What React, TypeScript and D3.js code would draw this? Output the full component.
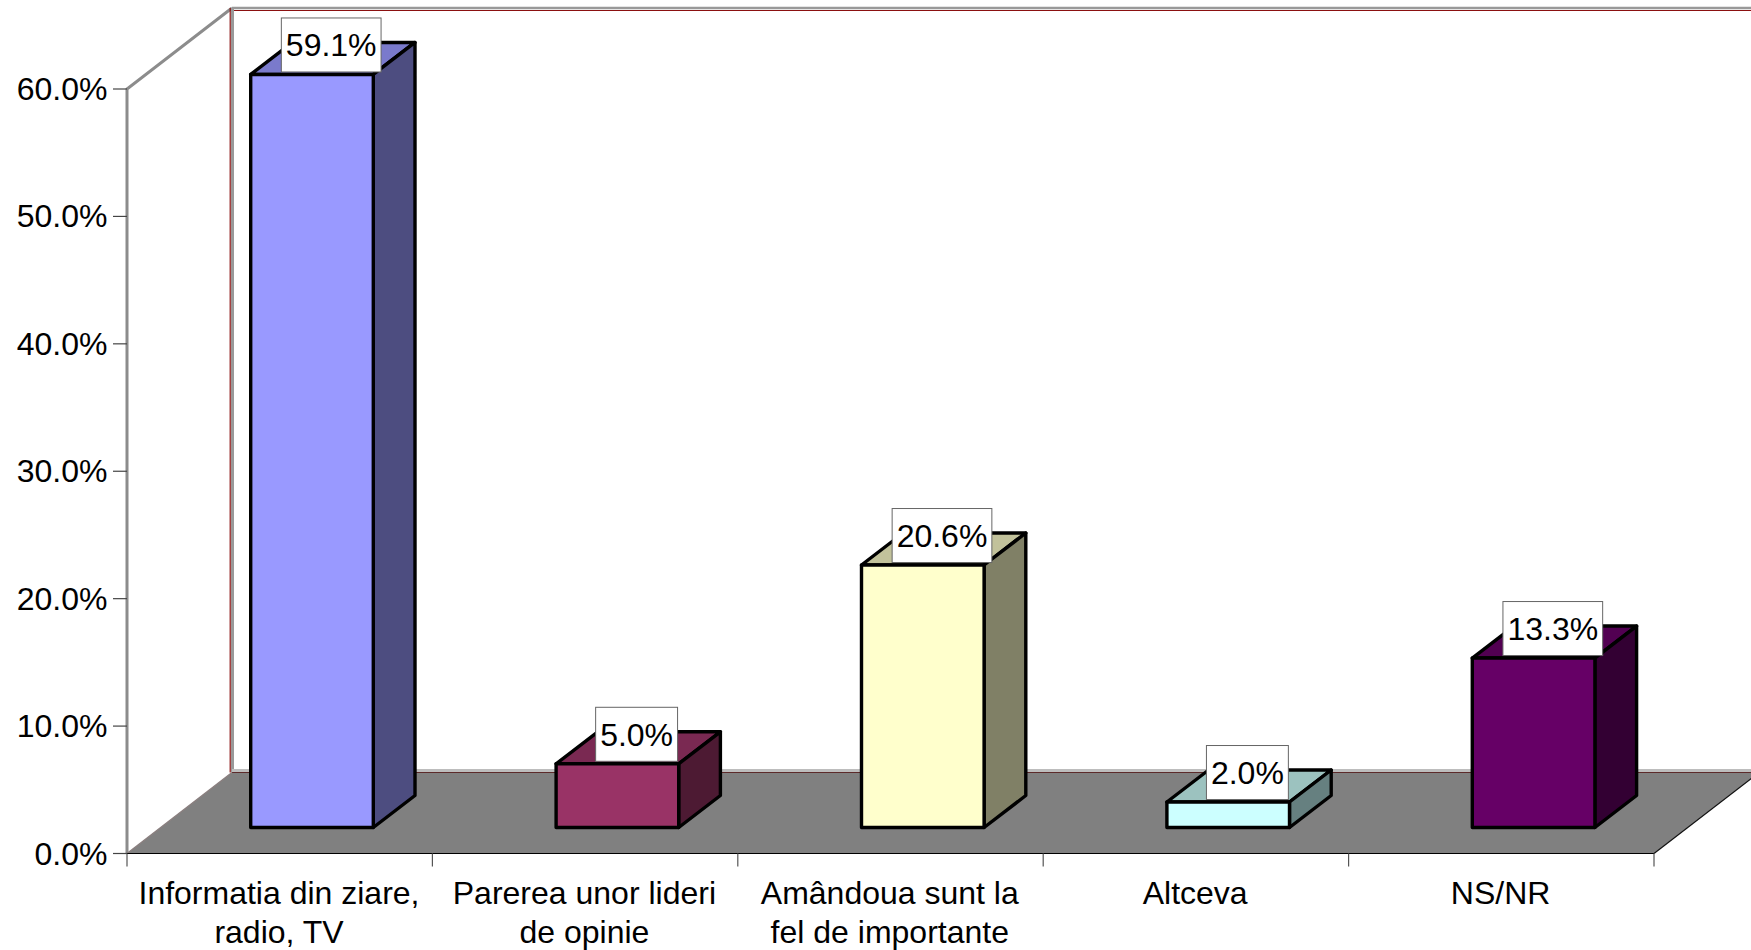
import React from "react";
import * as d3 from "d3";

const categories = [
  ["Informatia din ziare,", "radio, TV"],
  ["Parerea unor lideri", "de opinie"],
  ["Amândoua sunt la", "fel de importante"],
  ["Altceva"],
  ["NS/NR"],
];
const values = [59.1, 5.0, 20.6, 2.0, 13.3];
const yTicks = [0, 10, 20, 30, 40, 50, 60];
const frontColors = ["#9999ff", "#993366", "#ffffcc", "#ccffff", "#660066"];
const topColors = ["#7a7acc", "#7a2952", "#c2c29b", "#9cc2bf", "#520052"];
const sideColors = ["#4d4d80", "#4d1a33", "#808066", "#668080", "#330033"];

const W = 1751;
const H = 950;
const x0 = 127;
const x1 = 1654;
const yBase = 853.5;
const yTop = 89;
const depthX = 105;
const depthY = 81;
const font = "'Liberation Sans', Arial, sans-serif";
const fs = 32;

const y = d3.scaleLinear().domain([0, 60]).range([yBase, yTop]);
const x = d3.scaleBand<number>().domain(d3.range(categories.length)).range([x0, x1]);

const barW = 122.6;
const barOffset = 123.7; // category left -> front face left
const barLift = 26;
const barDX = 41.7;
const barDY = 32;
const pts = (p: number[][]) => p.map((q) => q.join(",")).join(" ");

function labelWidth(t: string) {
  const digits = t.replace(/[^0-9]/g, "").length;
  return (digits * 0.556 + 0.278 + 0.889) * fs + 9;
}

export default function App() {
  const bx0 = x0 + depthX;
  const byTop = y(60) - depthY;
  const byBase = yBase - depthY;
  return (
    <svg width={W} height={H} style={{ position: "absolute", left: 0, top: 0, display: "block", background: "#fff" }}>
      {/* left wall */}
      <polygon points={pts([[x0, yBase], [x0, yTop], [bx0, byTop], [bx0, byBase]])} fill="#fff" />
      <polyline points={pts([[x0, yBase], [x0, yTop], [bx0, byTop]])} fill="none" stroke="#8c8c8c" strokeWidth={3} />
      {/* back wall frame */}
      <line x1={bx0} x2={W} y1={byTop + 2.5} y2={byTop + 2.5} stroke="#8b1010" strokeWidth={1.2} />
      <line x1={bx0} x2={W} y1={byTop} y2={byTop} stroke="#999" strokeWidth={2.5} />
      <line x1={bx0 - 1.8} x2={bx0 - 1.8} y1={byTop} y2={byBase} stroke="#8b1010" strokeWidth={1.2} />
      <line x1={bx0 + 0.5} x2={bx0 + 0.5} y1={byTop} y2={byBase} stroke="#999" strokeWidth={3} />
      <line x1={bx0} x2={W} y1={byBase - 2} y2={byBase - 2} stroke="#bdbdbd" strokeWidth={3} />
      {/* floor */}
      <polygon points={pts([[x0, yBase], [x1, yBase], [x1 + depthX, byBase], [bx0, byBase]])} fill="#808080" />
      <line x1={bx0} x2={W} y1={byBase} y2={byBase} stroke="#5c2a2a" strokeWidth={1} />
      <line x1={x0} x2={bx0} y1={yBase} y2={byBase} stroke="#8a7f7f" strokeWidth={1.5} />
      <line x1={x1} x2={x1 + depthX} y1={yBase} y2={byBase} stroke="#111" strokeWidth={1.2} />
      {/* axes */}
      <line x1={x0} x2={x1} y1={yBase} y2={yBase} stroke="#000" strokeWidth={1.2} />
      {yTicks.map((t) => (
        <g key={t}>
          <line x1={x0 - 14} x2={x0} y1={y(t)} y2={y(t)} stroke="#444" strokeWidth={1.2} />
          <text x={107.5} y={y(t) + 11} textAnchor="end" fontFamily={font} fontSize={fs} fill="#000">
            {t.toFixed(1)}%
          </text>
        </g>
      ))}
      {d3.range(categories.length + 1).map((i) => {
        const tx = x0 + i * x.step();
        return <line key={i} x1={tx} x2={tx} y1={yBase} y2={yBase + 13} stroke="#555" strokeWidth={1.2} />;
      })}
      {categories.map((lines, i) =>
        lines.map((l, j) => (
          <text key={l} x={(x(i) as number) + x.bandwidth() / 2 - 0.7} y={904 + j * 39} textAnchor="middle" fontFamily={font} fontSize={fs} fill="#000">
            {l}
          </text>
        ))
      )}
      {/* bars */}
      {values.map((v, i) => {
        const l = (x(i) as number) + barOffset;
        const r = l + barW;
        const bot = yBase - barLift;
        const top = bot - (yBase - y(v));
        return (
          <g key={i} stroke="#000" strokeWidth={3.4} strokeLinejoin="round">
            <polygon points={pts([[l, top], [r, top], [r + barDX, top - barDY], [l + barDX, top - barDY]])} fill={topColors[i]} />
            <polygon points={pts([[r, top], [r + barDX, top - barDY], [r + barDX, bot - barDY], [r, bot]])} fill={sideColors[i]} />
            <rect x={l} y={top} width={barW} height={bot - top} fill={frontColors[i]} />
          </g>
        );
      })}
      {/* data labels */}
      {values.map((v, i) => {
        const l = (x(i) as number) + barOffset;
        const bot = yBase - barLift;
        const top = bot - (yBase - y(v));
        const t = `${v.toFixed(1)}%`;
        const cx = l + 80.5;
        const w = labelWidth(t);
        return (
          <g key={"lab" + i}>
            <rect x={cx - w / 2} y={top - 56.5} width={w} height={54} fill="#fff" stroke="#666" strokeWidth={1} />
            <text x={cx} y={top - 18} textAnchor="middle" fontFamily={font} fontSize={fs} fill="#000">
              {t}
            </text>
          </g>
        );
      })}
    </svg>
  );
}
